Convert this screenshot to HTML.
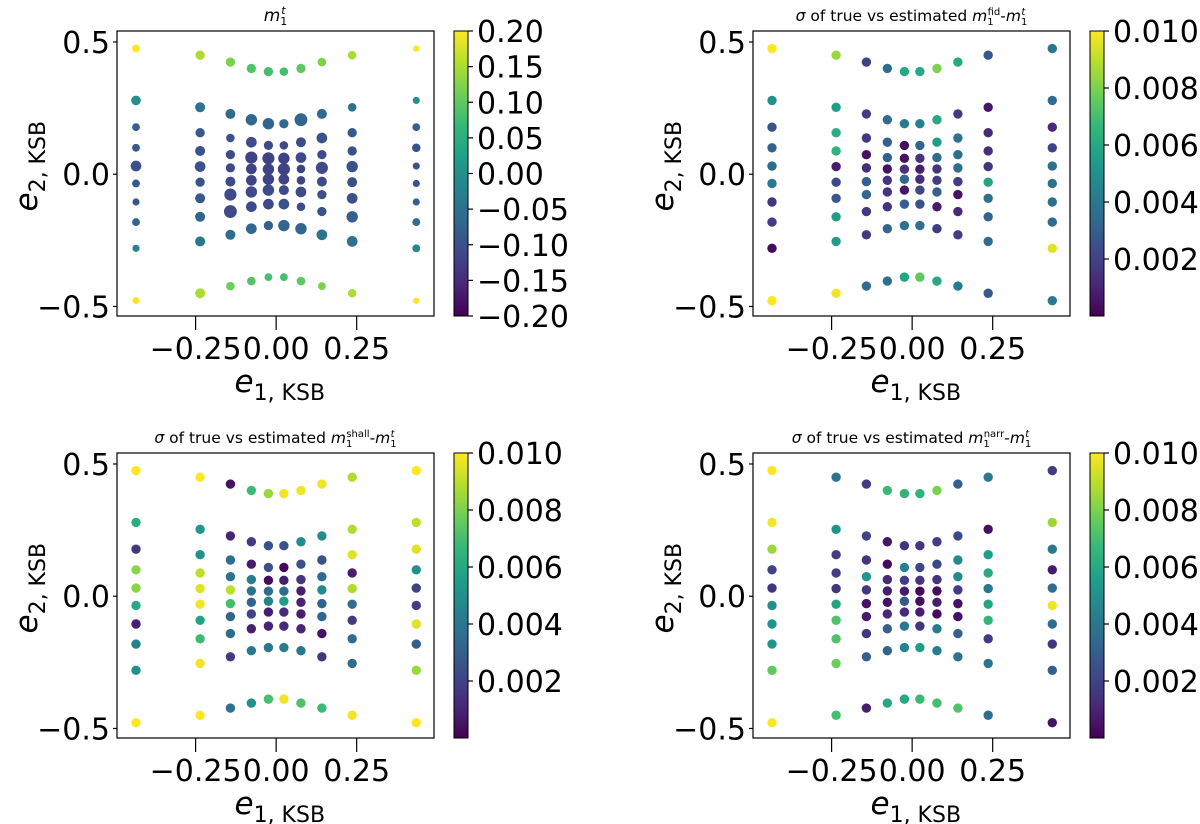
<!DOCTYPE html>
<html><head><meta charset="utf-8">
<style>
body{margin:0;background:#fff;width:1200px;height:824px;overflow:hidden;font-family:"DejaVu Sans","Liberation Sans",sans-serif;}
svg{position:absolute;left:0;top:0}
text{font-family:"DejaVu Sans","Liberation Sans",sans-serif;fill:#000}
</style></head>
<body>
<svg id="chart" width="1200" height="824"></svg>
<script>
// ---- data ----
const e1Cols = [-0.435,-0.236,-0.142,-0.077,-0.024,0.024,0.077,0.142,0.236,0.435];
const e2Outer = [0.475,0.279,0.178,0.100,0.031,-0.035,-0.105,-0.181,-0.280,-0.478];
const e2Mid   = [0.450,0.253,0.157,0.088,0.029,-0.030,-0.091,-0.161,-0.254,-0.450];
const e2In3   = [0.424,0.228,0.137,0.074,0.024,-0.028,-0.077,-0.141,-0.229,-0.423];
const e2In2   = [0.400,0.206,0.121,0.063,0.020,-0.023,-0.067,-0.123,-0.206,-0.404];
const e2In1   = [0.388,0.191,0.109,0.060,0.019,-0.019,-0.060,-0.113,-0.194,-0.389];
const e2ByCol = [e2Outer,e2Mid,e2In3,e2In2,e2In1,e2In1,e2In2,e2In3,e2Mid,e2Outer];

const mTrue = [
 [0.20,0.00,-0.08,-0.09,-0.10,-0.09,-0.09,-0.07,-0.02,0.20],
 [0.15,-0.05,-0.09,-0.10,-0.10,-0.10,-0.09,-0.07,-0.04,0.15],
 [0.12,-0.06,-0.10,-0.11,-0.11,-0.11,-0.11,-0.11,-0.06,0.11],
 [0.09,-0.07,-0.11,-0.12,-0.12,-0.12,-0.11,-0.11,-0.07,0.09],
 [0.08,-0.07,-0.11,-0.12,-0.12,-0.12,-0.11,-0.11,-0.08,0.08],
 [0.08,-0.07,-0.11,-0.12,-0.12,-0.12,-0.11,-0.10,-0.07,0.08],
 [0.10,-0.07,-0.11,-0.11,-0.12,-0.12,-0.11,-0.11,-0.07,0.10],
 [0.12,-0.06,-0.10,-0.11,-0.11,-0.11,-0.10,-0.10,-0.05,0.12],
 [0.15,-0.05,-0.09,-0.10,-0.10,-0.10,-0.10,-0.08,-0.05,0.15],
 [0.20,0.00,-0.08,-0.10,-0.10,-0.10,-0.08,-0.06,-0.01,0.20]];
// marker weights for panel 1 (relative size)
const mTrueSize = [
 [22,27,22,22,30,22,20,22,20,20],
 [26,28,26,28,30,26,28,28,28,28],
 [26,28,24,26,26,28,34,36,28,24],
 [26,32,30,34,30,30,32,30,30,24],
 [26,32,26,34,32,32,32,30,26,22],
 [24,26,24,32,34,30,28,30,32,22],
 [26,36,28,30,24,24,30,24,32,24],
 [24,28,30,26,34,28,26,26,30,22],
 [24,24,26,26,32,28,30,32,30,24],
 [18,20,22,24,20,20,20,22,22,18]];
const sigmaFid = [
 [0.0100,0.0050,0.0025,0.0030,0.0035,0.0040,0.0015,0.0018,0.0003,0.0100],
 [0.0085,0.0055,0.0062,0.0065,0.0008,0.0022,0.0027,0.0055,0.0055,0.0098],
 [0.0020,0.0018,0.0017,0.0005,0.0013,0.0030,0.0033,0.0017,0.0016,0.0035],
 [0.0036,0.0035,0.0030,0.0030,0.0005,0.0015,0.0015,0.0015,0.0033,0.0037],
 [0.0060,0.0042,0.0004,0.0005,0.0014,0.0033,0.0006,0.0030,0.0037,0.0058],
 [0.0060,0.0045,0.0033,0.0015,0.0008,0.0013,0.0022,0.0025,0.0037,0.0075],
 [0.0080,0.0060,0.0055,0.0035,0.0015,0.0018,0.0030,0.0007,0.0018,0.0060],
 [0.0060,0.0017,0.0037,0.0035,0.0035,0.0018,0.0005,0.0012,0.0018,0.0042],
 [0.0027,0.0006,0.0012,0.0013,0.0015,0.0058,0.0037,0.0032,0.0035,0.0028],
 [0.0039,0.0035,0.0012,0.0020,0.0037,0.0037,0.0037,0.0035,0.0095,0.0040]];
const sigmaShall = [
 [0.0100,0.0062,0.0015,0.0082,0.0082,0.0060,0.0008,0.0043,0.0050,0.0100],
 [0.0100,0.0053,0.0050,0.0090,0.0095,0.0098,0.0058,0.0068,0.0098,0.0100],
 [0.0005,0.0010,0.0035,0.0038,0.0090,0.0070,0.0033,0.0035,0.0018,0.0037],
 [0.0068,0.0018,0.0008,0.0042,0.0037,0.0032,0.0020,0.0008,0.0040,0.0050],
 [0.0085,0.0025,0.0025,0.0003,0.0035,0.0045,0.0008,0.0010,0.0040,0.0070],
 [0.0098,0.0025,0.0002,0.0008,0.0035,0.0055,0.0012,0.0012,0.0042,0.0098],
 [0.0098,0.0048,0.0025,0.0015,0.0008,0.0010,0.0008,0.0010,0.0040,0.0072],
 [0.0098,0.0048,0.0025,0.0035,0.0048,0.0032,0.0033,0.0005,0.0015,0.0068],
 [0.0088,0.0088,0.0095,0.0008,0.0088,0.0035,0.0017,0.0035,0.0035,0.0098],
 [0.0100,0.0090,0.0095,0.0050,0.0020,0.0018,0.0095,0.0030,0.0085,0.0100]];
const sigmaNarr = [
 [0.0100,0.0098,0.0085,0.0020,0.0015,0.0050,0.0052,0.0052,0.0075,0.0100],
 [0.0037,0.0052,0.0018,0.0018,0.0015,0.0058,0.0072,0.0072,0.0078,0.0070],
 [0.0018,0.0020,0.0015,0.0053,0.0017,0.0005,0.0007,0.0015,0.0030,0.0008],
 [0.0068,0.0006,0.0003,0.0012,0.0008,0.0005,0.0012,0.0030,0.0032,0.0060],
 [0.0065,0.0015,0.0045,0.0018,0.0007,0.0028,0.0012,0.0040,0.0045,0.0060],
 [0.0065,0.0015,0.0022,0.0015,0.0002,0.0004,0.0008,0.0015,0.0055,0.0068],
 [0.0080,0.0018,0.0022,0.0015,0.0003,0.0008,0.0002,0.0042,0.0042,0.0070],
 [0.0030,0.0022,0.0048,0.0048,0.0018,0.0005,0.0005,0.0030,0.0038,0.0072],
 [0.0040,0.0004,0.0055,0.0060,0.0040,0.0058,0.0065,0.0018,0.0038,0.0035],
 [0.0018,0.0085,0.0040,0.0007,0.0035,0.0098,0.0035,0.0015,0.0030,0.0005]];
const xTicks = [-0.25,0,0.25];
const xTickLabels = ["\u22120.25","0.00","0.25"];
const yTicks = [0.5,0,-0.5];
const yTickLabels = ["0.5","0.0","\u22120.5"];
const cb1Ticks = [0.20,0.15,0.10,0.05,0.00,-0.05,-0.10,-0.15,-0.20];
const cb1Labels = ["0.20","0.15","0.10","0.05","0.00","\u22120.05","\u22120.10","\u22120.15","\u22120.20"];
const cbSigTicks = [0.010,0.008,0.006,0.004,0.002];
const cbSigLabels = ["0.010","0.008","0.006","0.004","0.002"];

// ---- rendering ----
const NS="http://www.w3.org/2000/svg";
const svg=document.getElementById('chart');
const VIR=[[68,1,84],[72,40,120],[62,73,137],[49,104,142],[38,130,142],[31,158,137],[53,183,121],[110,206,88],[181,222,43],[253,231,37]];
function viridis(t){t=Math.max(0,Math.min(1,t));const p=t*9,i=Math.min(8,Math.floor(p)),f=p-i;
 const a=VIR[i],b=VIR[i+1];return 'rgb('+a.map((v,k)=>Math.round(v+(b[k]-v)*f)).join(',')+')';}
function el(tag,attrs,parent){const e=document.createElementNS(NS,tag);for(const k in attrs)e.setAttribute(k,attrs[k]);(parent||svg).appendChild(e);return e;}
const W=317,H=285,XMIN=-0.494,XMAX=0.490,YMIN=-0.536,YMAX=0.5415;
const FS=30;

function panel(left,top,cbx,title,titleSize,vals,vmin,vmax,sizes,cbTicks,cbLabels,name){
 const g=el('g',{});
 
 
 const sx=v=>left+(v-XMIN)/(XMAX-XMIN)*W;
 const sy=v=>top+(YMAX-v)/(YMAX-YMIN)*H;
 for(let c=0;c<e1Cols.length;c++){for(let r=0;r<10;r++){
   const v=vals[c][r];
   const rad=sizes?sizes[c][r]/5.6:4.7;
   const p=el('circle',{cx:sx(e1Cols[c]),cy:sy(e2ByCol[c][r]),r:rad,fill:viridis((v-vmin)/(vmax-vmin))},g);
   
   
 }}
 const fr=el('rect',{x:left,y:top,width:W,height:H,fill:'none',stroke:'#000','stroke-width':1.2},g);
 
 
 xTicks.forEach((t,i)=>{const x=sx(t);
   el('line',{x1:x,x2:x,y1:top+H,y2:top+H+14,stroke:'#000','stroke-width':1.2},g);
   const tx=el('text',{x:x,y:top+H+43,'font-size':FS,'text-anchor':'middle'},g);tx.textContent=xTickLabels[i];
   
   });
 yTicks.forEach((t,i)=>{const y=sy(t);
   el('line',{x1:left-4,x2:left,y1:y,y2:y,stroke:'#000','stroke-width':1.2},g);
   const tx=el('text',{x:left-7,y:y+11,'font-size':FS,'text-anchor':'end'},g);tx.textContent=yTickLabels[i];
   
   });
 const xl=el('text',{x:left+W/2-41,y:top+H+76,'font-size':31},g);
 xl.innerHTML='<tspan font-style="italic">e</tspan><tspan dy="8" font-size="22">1, KSB</tspan>';
 
 
 const yl=el('text',{x:0,y:0,'font-size':31,transform:'translate('+(left-80)+','+(top+H/2+38)+') rotate(-90)'},g);
 yl.innerHTML='<tspan font-style="italic">e</tspan><tspan dy="8" font-size="22">2, KSB</tspan>';
 
 
 const tt=el('text',{x:left+W/2,y:top-10,'font-size':titleSize,'text-anchor':'middle'},g);
 tt.innerHTML=title;
 
 
 const cg=el('g',{},g);
 
 
 for(let i=0;i<H;i++){el('rect',{x:cbx,y:top+H-i-1,width:14,height:1.5,fill:viridis(i/H)},cg);}
 el('rect',{x:cbx,y:top,width:14,height:H,fill:'none',stroke:'#000','stroke-width':1},cg);
 cbTicks.forEach((t,i)=>{const y=top+(vmax-t)/(vmax-vmin)*H;
   el('line',{x1:cbx+14,x2:cbx+19,y1:y,y2:y,stroke:'#000','stroke-width':1.2},cg);
   const tx=el('text',{x:cbx+23,y:y+11,'font-size':FS},cg);tx.textContent=cbLabels[i];
   
   });
}
const mt='<tspan font-style="italic">m</tspan><tspan font-size="11" dy="4">1</tspan><tspan font-size="11" font-style="italic" dx="-6" dy="-11">t</tspan>';
function sig(s){return '<tspan font-style="italic">σ</tspan> of true vs estimated <tspan font-style="italic">m</tspan><tspan font-size="10" dy="4">1</tspan><tspan font-size="10" dx="-6" dy="-10">'+s+'</tspan><tspan dy="6">-</tspan>'+'<tspan font-style="italic">m</tspan><tspan font-size="10" dy="4">1</tspan><tspan font-size="10" font-style="italic" dx="-6" dy="-10">t</tspan>';}
panel(117,31,454,mt,17,mTrue,-0.2,0.2,mTrueSize,cb1Ticks,cb1Labels,'panel-m-true');
panel(753,31,1090,sig('fid'),15.5,sigmaFid,0,0.01,null,cbSigTicks,cbSigLabels,'panel-sigma-fid');
panel(117,453,454,sig('shall'),15.5,sigmaShall,0,0.01,null,cbSigTicks,cbSigLabels,'panel-sigma-shall');
panel(753,453,1090,sig('narr'),15.5,sigmaNarr,0,0.01,null,cbSigTicks,cbSigLabels,'panel-sigma-narr');
</script>
</body></html>
